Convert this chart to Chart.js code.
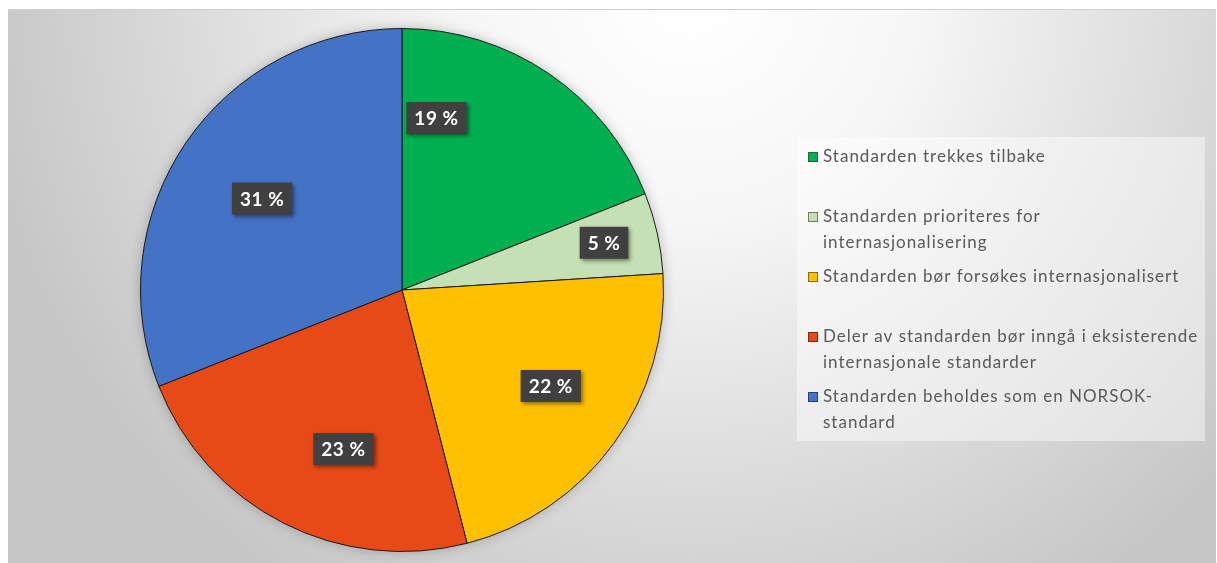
<!DOCTYPE html>
<html>
<head>
<meta charset="utf-8">
<title>Standardene</title>
<style>
html,body{margin:0;padding:0;background:#fff;overflow:hidden;}
#wrap{width:1217px;height:563px;}
</style>
</head>
<body>
<div id="wrap"><canvas id="chart" width="1217" height="563"></canvas></div>
<script src="https://cdn.jsdelivr.net/npm/chart.js"></script>
<script>
// data
const categories = [
  ["Standarden trekkes tilbake"],
  ["Standarden prioriteres for", "internasjonalisering"],
  ["Standarden bør forsøkes internasjonalisert"],
  ["Deler av standarden bør inngå i eksisterende", "internasjonale standarder"],
  ["Standarden beholdes som en NORSOK-", "standard"]
];
const shares = [19, 5, 22, 23, 31];

const sliceColors = ['#00b050', '#c5e0b4', '#ffc000', '#e84a17', '#4472c4'];
const markerBorders = ['#1d6b3a', '#6f7f63', '#8a6d10', '#7a2a10', '#24406f'];
const FONT = 'Lato, "Open Sans", sans-serif';

/* ---------- background + pie shadow ---------- */
const bgPlugin = {
  id: 'bg',
  beforeDraw(chart){
    const c = chart.ctx;
    c.save();
    c.fillStyle = '#fff';
    c.fillRect(0, 0, chart.width, chart.height);
    const g = c.createRadialGradient(690, -10, 20, 690, -10, 720);
    g.addColorStop(0, '#ffffff');
    g.addColorStop(0.3, '#f6f6f6');
    g.addColorStop(0.7, '#dadada');
    g.addColorStop(1, '#c6c6c6');
    c.fillStyle = g;
    c.fillRect(8, 9, 1208, 554);
    c.strokeStyle = '#d0d0d0';
    c.lineWidth = 1;
    c.beginPath(); c.moveTo(8, 9.5); c.lineTo(1216, 9.5); c.stroke();
    c.restore();
  },
  beforeDatasetsDraw(chart){
    const arc = chart.getDatasetMeta(0).data[0];
    if(!arc) return;
    const p = arc.getProps(['x', 'y', 'outerRadius'], true);
    const c = chart.ctx;
    c.save();
    c.shadowColor = 'rgba(0,0,0,0.28)';
    c.shadowBlur = 14;
    c.fillStyle = '#888';
    c.beginPath(); c.arc(p.x, p.y, p.outerRadius - 1, 0, Math.PI * 2); c.fill();
    c.restore();
  }
};

/* ---------- value boxes ---------- */
const boxPlugin = {
  id: 'boxes',
  afterDatasetsDraw(chart, args, opts){
    const c = chart.ctx;
    const meta = chart.getDatasetMeta(0);
    const total = shares.reduce((a, b) => a + b, 0);
    meta.data.forEach((arc, i) => {
      const p = arc.getProps(['x', 'y', 'startAngle', 'endAngle', 'outerRadius'], true);
      const mid = (p.startAngle + p.endAngle) / 2;
      const off = opts.offsets[i] || [0, 0];
      const x = p.x + Math.cos(mid) * p.outerRadius * opts.dist + off[0];
      const y = p.y + Math.sin(mid) * p.outerRadius * opts.dist + off[1];
      const txt = Math.round(shares[i] / total * 100) + ' %';
      c.save();
      c.font = 'bold 19px ' + FONT;
      c.letterSpacing = '0.5px';
      const w = c.measureText(txt).width + 16;
      const h = 32;
      c.shadowColor = 'rgba(0,0,0,0.45)';
      c.shadowBlur = 4;
      c.shadowOffsetX = 2;
      c.shadowOffsetY = 2;
      c.fillStyle = '#404040';
      c.fillRect(x - w / 2, y - h / 2, w, h);
      c.shadowColor = 'transparent';
      c.fillStyle = '#fff';
      c.textAlign = 'center';
      c.textBaseline = 'middle';
      c.fillText(txt, x, y + 1);
      c.restore();
    });
  }
};

/* ---------- legend ---------- */
const legendPlugin = {
  id: 'sideLegend',
  afterDraw(chart, args, o){
    const c = chart.ctx;
    c.save();
    c.fillStyle = 'rgba(255,255,255,0.45)';
    c.fillRect(o.x, o.y, o.w, o.h);
    c.font = '17px ' + FONT;
    c.letterSpacing = '1px';
    c.textBaseline = 'middle';
    chart.data.labels.forEach((lines, i) => {
      const y0 = o.firstY + i * o.step;
      c.fillStyle = sliceColors[i];
      c.fillRect(o.x + 11, y0 - 5, 10, 10);
      c.strokeStyle = markerBorders[i];
      c.lineWidth = 1;
      c.strokeRect(o.x + 11.5, y0 - 4.5, 9, 9);
      c.fillStyle = '#595959';
      lines.forEach((ln, k) => c.fillText(ln, o.x + 26, y0 + k * o.lineH));
    });
    c.restore();
  }
};

new Chart(document.getElementById('chart'), {
  type: 'pie',
  data: {
    labels: categories,
    datasets: [{
      data: shares,
      backgroundColor: sliceColors,
      borderColor: '#1a1a1a',
      borderWidth: 1
    }]
  },
  options: {
    responsive: false,
    animation: false,
    layout: { padding: { left: 140, right: 553, top: 28, bottom: 11 } },
    plugins: {
      legend: { display: false },
      tooltip: { enabled: false },
      boxes: { dist: 0.67, offsets: [[-64, -27], [31, -9], [7, -7], [21, 3], [5, 7]] },
      sideLegend: { x: 797, y: 137, w: 408, h: 304, firstY: 157, step: 60, lineH: 26 }
    }
  },
  plugins: [bgPlugin, boxPlugin, legendPlugin]
});
</script>
</body>
</html>
